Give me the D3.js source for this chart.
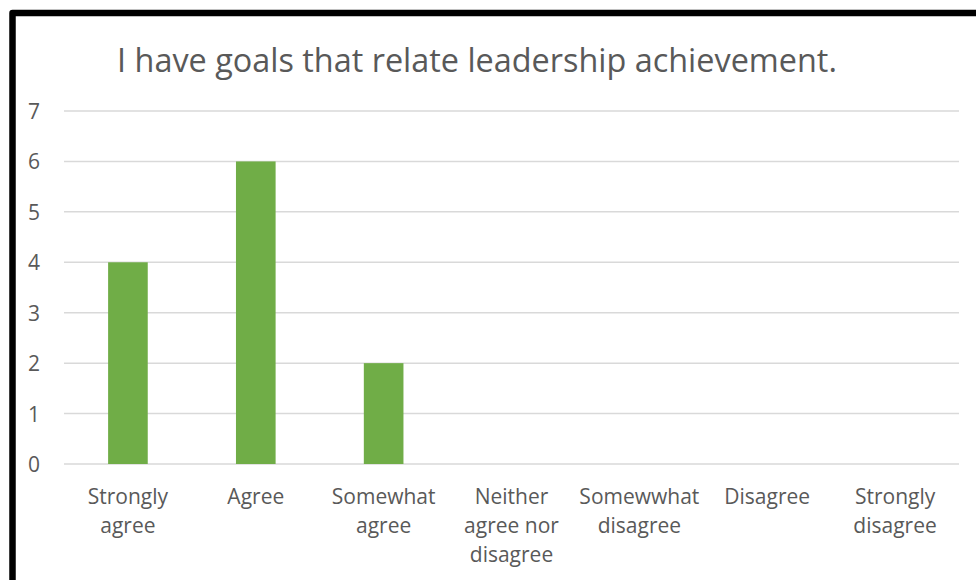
<!DOCTYPE html>
<html>
<head>
<meta charset="utf-8">
<script src="https://cdn.jsdelivr.net/npm/d3@7"></script>
<style>
  html, body { margin: 0; padding: 0; background: #ffffff; }
  svg { display: block; }
  text { font-family: "Open Sans", "Noto Sans", sans-serif; fill: #595959; }
</style>
</head>
<body>
<svg id="chart" width="976" height="580"></svg>
<script>
// Survey responses for a single statement
const chartTitle = "I have goals that relate leadership achievement.";
const categories = [
  "Strongly agree",
  "Agree",
  "Somewhat agree",
  "Neither agree nor disagree",
  "Somewwhat disagree",
  "Disagree",
  "Strongly disagree"
];
const counts = [4, 6, 2, 0, 0, 0, 0];
const yTicks = [0, 1, 2, 3, 4, 5, 6, 7];

const width = 976, height = 580;
const margin = { top: 111, right: 17, bottom: 116, left: 64 };

const svg = d3.select("#chart");

const x = d3.scaleBand()
  .domain(categories)
  .range([margin.left, width - margin.right])
  .paddingInner(0.69)
  .paddingOuter(0.345);

const y = d3.scaleLinear()
  .domain([0, 7])
  .range([height - margin.bottom, margin.top]);

// Horizontal gridlines
svg.append("g")
  .selectAll("line")
  .data(yTicks)
  .join("line")
  .attr("x1", margin.left)
  .attr("x2", width - margin.right)
  .attr("y1", d => y(d))
  .attr("y2", d => y(d))
  .attr("stroke", "#d9d9d9")
  .attr("stroke-width", 1.5);

// Value axis labels
const yAxis = d3.axisLeft(y).tickValues(yTicks).tickSize(0).tickPadding(0).tickFormat(d3.format("d"));
const yG = svg.append("g")
  .attr("transform", `translate(40,0)`)
  .call(yAxis);
yG.select(".domain").remove();
yG.selectAll("text")
  .attr("font-size", 21)
  .attr("font-family", "'Open Sans', sans-serif")
  .attr("fill", "#595959")
  .attr("dy", "0.36em");

// Bars
svg.append("g")
  .selectAll("rect")
  .data(categories.map((c, i) => ({ c, v: counts[i] })))
  .join("rect")
  .attr("x", d => x(d.c))
  .attr("width", x.bandwidth())
  .attr("y", d => y(d.v))
  .attr("height", d => y(0) - y(d.v))
  .attr("fill", "#70ad47");

// Category axis with wrapped labels
const xAxis = d3.axisBottom(x).tickSize(0).tickPadding(0);
const xG = svg.append("g")
  .attr("transform", `translate(0,${y(0)})`)
  .call(xAxis);
xG.select(".domain").remove();
xG.selectAll("text")
  .attr("font-size", 21)
  .attr("font-family", "'Open Sans', sans-serif")
  .attr("fill", "#595959")
  .attr("y", 0)
  .attr("dy", 0)
  .each(function (d) {
    const t = d3.select(this);
    const words = d.split(" ");
    const maxW = x.step() - 14;
    t.text(null);
    const lines = [];
    let cur = [];
    const probe = t.append("tspan");
    words.forEach(w => {
      const attempt = cur.concat(w).join(" ");
      probe.text(attempt);
      if (cur.length && probe.node().getComputedTextLength() > maxW) {
        lines.push(cur.join(" "));
        cur = [w];
      } else {
        cur.push(w);
      }
    });
    lines.push(cur.join(" "));
    probe.remove();
    lines.forEach((ln, i) => {
      t.append("tspan")
        .attr("x", 0)
        .attr("y", 40 + i * 29)
        .text(ln);
    });
  });

// Title
svg.append("text")
  .attr("x", 477)
  .attr("y", 72)
  .attr("text-anchor", "middle")
  .attr("font-size", 32.4)
  .attr("fill", "#595959")
  .text(chartTitle);

// Frame along the top and left edges
svg.append("path")
  .attr("d", `M12.5,${height + 5} L12.5,13 L${width + 5},13`)
  .attr("fill", "none")
  .attr("stroke", "#000000")
  .attr("stroke-width", 6.5)
  .attr("stroke-linejoin", "round");
</script>
</body>
</html>
